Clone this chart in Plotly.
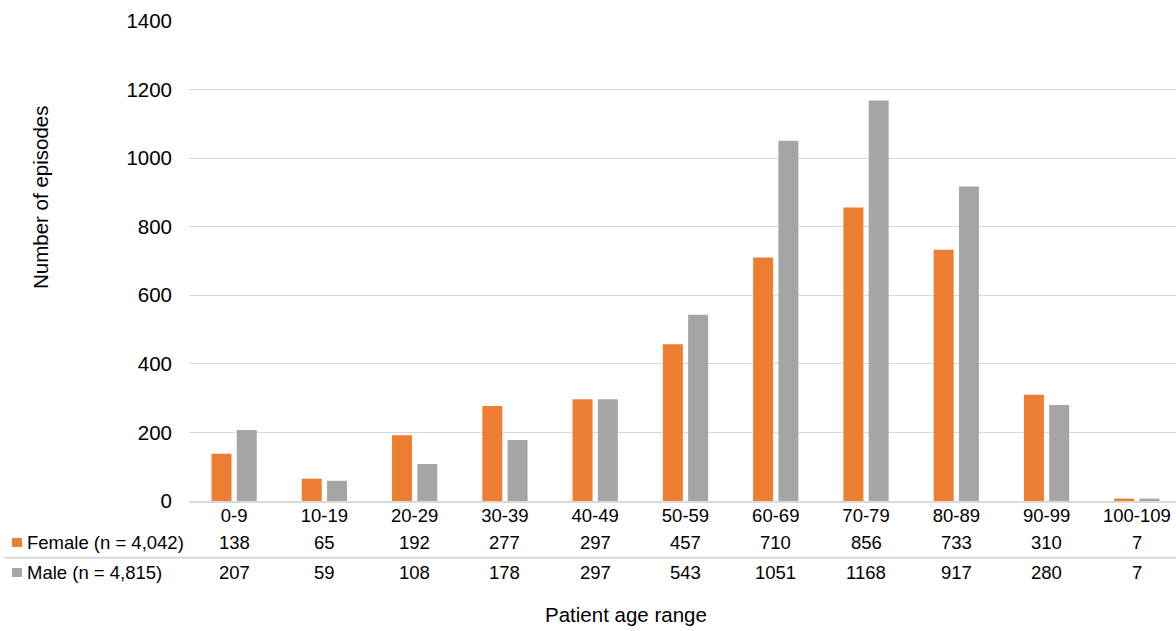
import plotly.graph_objects as go

categories = ["0-9", "10-19", "20-29", "30-39", "40-49", "50-59", "60-69", "70-79", "80-89", "90-99", "100-109"]
female = [138, 65, 192, 277, 297, 457, 710, 856, 733, 310, 7]
male = [207, 59, 108, 178, 297, 543, 1051, 1168, 917, 280, 7]
series_names = ["Female (n = 4,042)", "Male (n = 4,815)"]
series_values = [female, male]
series_colors = ["#ED7D31", "#A5A5A5"]
y_ticks = [0, 200, 400, 600, 800, 1000, 1200, 1400]

W, H = 1176, 631
L, R, T, B = 189, 0, 21, 130
plot_w = W - L - R
plot_h = H - T - B
FONT = "Arial, Liberation Sans, sans-serif"
FS_TABLE = 18.5
FS_AXIS = 20.5
GRID = "#d9d9d9"
TXT = "#000000"


def px_y(p):
    return (H - B - p) / plot_h


def px_x(p):
    return (p - L) / plot_w


fig = go.Figure()
for name, vals, col in zip(series_names, series_values, series_colors):
    fig.add_trace(go.Bar(x=categories, y=vals, name=name, marker=dict(color=col, line=dict(width=0)),
                         showlegend=False))

# category width in px ~90.27 -> extend range slightly beyond right edge
cat_w = 90.27
x_hi = -0.5 + plot_w / cat_w

annotations = []
row_y = [542.5, 572.5]
for r, (name, vals, col) in enumerate(zip(series_names, series_values, series_colors)):
    for c, v in zip(categories, vals):
        annotations.append(dict(x=c, xref="x", y=px_y(row_y[r]), yref="paper", text=str(v),
                                showarrow=False, xanchor="center", yanchor="middle",
                                font=dict(family=FONT, size=FS_TABLE, color=TXT)))
    annotations.append(dict(x=px_x(25), xref="paper", y=px_y(row_y[r]), yref="paper", text=name,
                            showarrow=False, xanchor="left", yanchor="middle",
                            font=dict(family=FONT, size=FS_TABLE, color=TXT)))

annotations.append(dict(x=px_x(626), xref="paper", y=px_y(614), yref="paper", text="Patient age range",
                        showarrow=False, xanchor="center", yanchor="middle",
                        font=dict(family=FONT, size=FS_AXIS, color=TXT)))
annotations.append(dict(x=px_x(40), xref="paper", y=px_y(198), yref="paper", text="Number of episodes",
                        showarrow=False, xanchor="center", yanchor="middle", textangle=-90,
                        font=dict(family=FONT, size=FS_AXIS, color=TXT)))

shapes = []
# legend squares
for r, col in enumerate(series_colors):
    shapes.append(dict(type="rect", xref="paper", yref="paper",
                       x0=px_x(12), x1=px_x(22), y0=px_y(row_y[r] - 4.5), y1=px_y(row_y[r] + 4.5),
                       fillcolor=col, line=dict(width=0)))
# separator line between table rows
shapes.append(dict(type="line", xref="paper", yref="paper", x0=px_x(4), x1=1.0,
                   y0=px_y(557.7), y1=px_y(557.7), line=dict(color=GRID, width=2)))

fig.update_layout(
    width=W, height=H,
    margin=dict(l=L, r=R, t=T, b=B, pad=0),
    paper_bgcolor="white", plot_bgcolor="white",
    barmode="group", bargap=0.44, bargroupgap=0.21,
    font=dict(family=FONT, size=FS_TABLE, color=TXT),
    xaxis=dict(type="category", range=[-0.5, x_hi], showgrid=False, showline=True, linecolor=GRID,
               linewidth=2, ticks="", tickfont=dict(family=FONT, size=FS_TABLE, color=TXT),
               ticklabelstandoff=-3, fixedrange=True),
    yaxis=dict(range=[0, 1400], tickvals=y_ticks, showgrid=True, gridcolor=GRID, gridwidth=1,
               zeroline=False, showline=False, ticks="", ticklabelstandoff=16,
               tickfont=dict(family=FONT, size=FS_AXIS, color=TXT), fixedrange=True),
    annotations=annotations,
    shapes=shapes,
)

fig.write_html("out.html", config={"displayModeBar": False},
               post_script="document.body.style.margin='0';")
